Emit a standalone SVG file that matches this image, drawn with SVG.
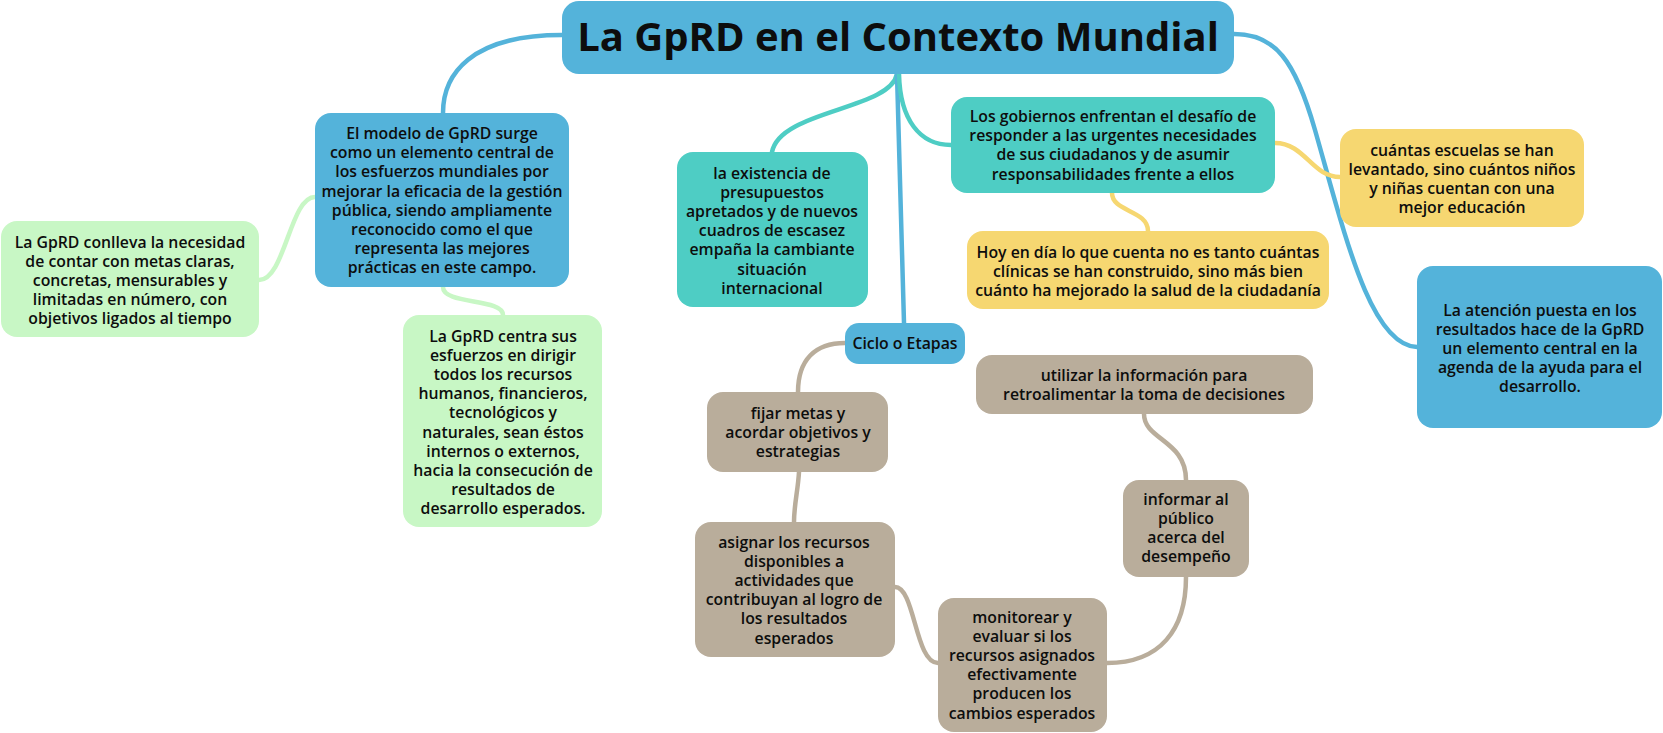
<svg xmlns="http://www.w3.org/2000/svg" width="1663" height="733" viewBox="0 0 1663 733">
<style>
.t{font-family:"Open Sans","Noto Sans","Liberation Sans",sans-serif;font-weight:600;font-size:15.8px;fill:#0d0d0d;text-anchor:middle}
.title{font-family:"Open Sans","Noto Sans","Liberation Sans",sans-serif;font-weight:700;font-size:40px;fill:#0d0d0d;text-anchor:middle}
.blue{fill:#54B3DA}
.teal{fill:#4ECDC4}
.yel{fill:#F6D771}
.grn{fill:#C8F7C5}
.tan{fill:#B9AD9B}
.c{fill:none;stroke-width:4.5;stroke-linecap:round}
.cb{stroke:#54B3DA}
.ct{stroke:#4ECDC4}
.cy{stroke:#F6D771}
.cg{stroke:#C8F7C5}
.cn{stroke:#B9AD9B}
</style>
<g id="connectors">
<path class="c cb" d="M562,35 C470,35 443,75 443,113"/>
<path class="c cg" d="M315,197 C290,197 285,280 259,280"/>
<path class="c cg" d="M443,287 C443,305 503,298 503,315"/>
<path class="c ct" d="M897,74 C890,110 780,110 772,152"/>
<path class="c cb" d="M897,74 L904,323"/>
<path class="c ct" d="M899,74 C900,120 920,145 951,145"/>
<path class="c cb" d="M1234,34 C1275,34 1295,60 1315,130 C1345,235 1370,345 1417,347"/>
<path class="c cy" d="M1275,143 C1305,143 1312,177 1340,177"/>
<path class="c cy" d="M1112,193 C1112,212 1148,210 1148,231"/>
<path class="c cn" d="M845,343 C815,343 798,360 798,392"/>
<path class="c cn" d="M799,472 C798,490 794,505 794,522"/>
<path class="c cn" d="M895,587 C915,587 915,663 938,663"/>
<path class="c cn" d="M1107,663 C1160,663 1186,630 1186,577"/>
<path class="c cn" d="M1186,480 C1186,440 1144,440 1144,414"/>
</g>
<g id="n_title">
<rect class="blue" x="562" y="1" width="672" height="73" rx="17"/>
<text class="title" x="898" y="51">La GpRD en el Contexto Mundial</text>
</g>
<g id="n_modelo">
<rect class="blue" x="315" y="113" width="254" height="174" rx="16"/>
<text class="t" x="442" y="139">El modelo de GpRD surge<tspan x="442" dy="19.2">como un elemento central de</tspan><tspan x="442" dy="19.2">los esfuerzos mundiales por</tspan><tspan x="442" dy="19.2">mejorar la eficacia de la gestión</tspan><tspan x="442" dy="19.2">pública, siendo ampliamente</tspan><tspan x="442" dy="19.2">reconocido como el que</tspan><tspan x="442" dy="19.2">representa las mejores</tspan><tspan x="442" dy="19.2">prácticas en este campo.</tspan></text>
</g>
<g id="n_conlleva">
<rect class="grn" x="1" y="221" width="258" height="116" rx="16"/>
<text class="t" x="130" y="247.5">La GpRD conlleva la necesidad<tspan x="130" dy="19.2">de contar con metas claras,</tspan><tspan x="130" dy="19.2">concretas, mensurables y</tspan><tspan x="130" dy="19.2">limitadas en número, con</tspan><tspan x="130" dy="19.2">objetivos ligados al tiempo</tspan></text>
</g>
<g id="n_centra">
<rect class="grn" x="403" y="315" width="199" height="212" rx="16"/>
<text class="t" x="503" y="341.5">La GpRD centra sus<tspan x="503" dy="19.2">esfuerzos en dirigir</tspan><tspan x="503" dy="19.2">todos los recursos</tspan><tspan x="503" dy="19.2">humanos, financieros,</tspan><tspan x="503" dy="19.2">tecnológicos y</tspan><tspan x="503" dy="19.2">naturales, sean éstos</tspan><tspan x="503" dy="19.2">internos o externos,</tspan><tspan x="503" dy="19.2">hacia la consecución de</tspan><tspan x="503" dy="19.2">resultados de</tspan><tspan x="503" dy="19.2">desarrollo esperados.</tspan></text>
</g>
<g id="n_existencia">
<rect class="teal" x="677" y="152" width="191" height="155" rx="16"/>
<text class="t" x="772" y="178.5">la existencia de<tspan x="772" dy="19.2">presupuestos</tspan><tspan x="772" dy="19.2">apretados y de nuevos</tspan><tspan x="772" dy="19.2">cuadros de escasez</tspan><tspan x="772" dy="19.2">empaña la cambiante</tspan><tspan x="772" dy="19.2">situación</tspan><tspan x="772" dy="19.2">internacional</tspan></text>
</g>
<g id="n_gobiernos">
<rect class="teal" x="951" y="97" width="324" height="96" rx="16"/>
<text class="t" x="1113" y="122">Los gobiernos enfrentan el desafío de<tspan x="1113" dy="19.2">responder a las urgentes necesidades</tspan><tspan x="1113" dy="19.2">de sus ciudadanos y de asumir</tspan><tspan x="1113" dy="19.2">responsabilidades frente a ellos</tspan></text>
</g>
<g id="n_escuelas">
<rect class="yel" x="1340" y="129" width="244" height="98" rx="16"/>
<text class="t" x="1462" y="155.5">cuántas escuelas se han<tspan x="1462" dy="19.2">levantado, sino cuántos niños</tspan><tspan x="1462" dy="19.2">y niñas cuentan con una</tspan><tspan x="1462" dy="19.2">mejor educación</tspan></text>
</g>
<g id="n_hoy">
<rect class="yel" x="967" y="231" width="362" height="78" rx="16"/>
<text class="t" x="1148" y="257.5">Hoy en día lo que cuenta no es tanto cuántas<tspan x="1148" dy="19.2">clínicas se han construido, sino más bien</tspan><tspan x="1148" dy="19.2">cuánto ha mejorado la salud de la ciudadanía</tspan></text>
</g>
<g id="n_atencion">
<rect class="blue" x="1417" y="266" width="245" height="162" rx="16"/>
<text class="t" x="1540" y="315.5">La atención puesta en los<tspan x="1540" dy="19.2">resultados hace de la GpRD</tspan><tspan x="1540" dy="19.2">un elemento central en la</tspan><tspan x="1540" dy="19.2">agenda de la ayuda para el</tspan><tspan x="1540" dy="19.2">desarrollo.</tspan></text>
</g>
<g id="n_ciclo">
<rect class="blue" x="845" y="323" width="120" height="41" rx="14"/>
<text class="t" x="905" y="349">Ciclo o Etapas</text>
</g>
<g id="n_fijar">
<rect class="tan" x="707" y="392" width="181" height="80" rx="16"/>
<text class="t" x="798" y="418.5">fijar metas y<tspan x="798" dy="19.2">acordar objetivos y</tspan><tspan x="798" dy="19.2">estrategias</tspan></text>
</g>
<g id="n_asignar">
<rect class="tan" x="695" y="522" width="200" height="135" rx="16"/>
<text class="t" x="794" y="547.5">asignar los recursos<tspan x="794" dy="19.2">disponibles a</tspan><tspan x="794" dy="19.2">actividades que</tspan><tspan x="794" dy="19.2">contribuyan al logro de</tspan><tspan x="794" dy="19.2">los resultados</tspan><tspan x="794" dy="19.2">esperados</tspan></text>
</g>
<g id="n_utilizar">
<rect class="tan" x="976" y="355" width="337" height="59" rx="16"/>
<text class="t" x="1144" y="381">utilizar la información para<tspan x="1144" dy="19.2">retroalimentar la toma de decisiones</tspan></text>
</g>
<g id="n_informar">
<rect class="tan" x="1123" y="480" width="126" height="97" rx="16"/>
<text class="t" x="1186" y="504.5">informar al<tspan x="1186" dy="19.2">público</tspan><tspan x="1186" dy="19.2">acerca del</tspan><tspan x="1186" dy="19.2">desempeño</tspan></text>
</g>
<g id="n_monitorear">
<rect class="tan" x="938" y="598" width="169" height="134" rx="16"/>
<text class="t" x="1022" y="622.5">monitorear y<tspan x="1022" dy="19.2">evaluar si los</tspan><tspan x="1022" dy="19.2">recursos asignados</tspan><tspan x="1022" dy="19.2">efectivamente</tspan><tspan x="1022" dy="19.2">producen los</tspan><tspan x="1022" dy="19.2">cambios esperados</tspan></text>
</g>
</svg>
